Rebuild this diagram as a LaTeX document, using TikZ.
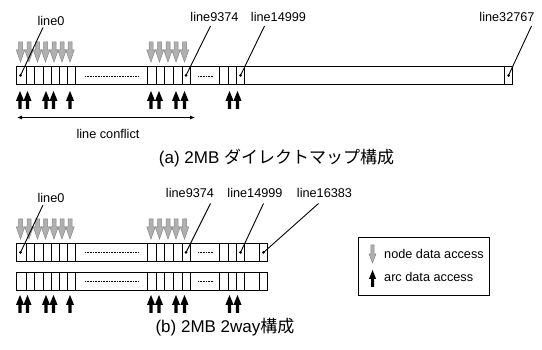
\documentclass[tikz,border=0pt]{standalone}
\usepackage{fontspec}
\setmainfont{Liberation Sans}
\newfontfamily\jpfont{Noto Sans CJK JP}
\usetikzlibrary{arrows.meta}
\begin{document}
\begin{tikzpicture}[x=1pt,y=-1pt,
  lbl/.style={font=\fontsize{12.7}{14}\selectfont, inner sep=0pt},
  captxt/.style={font=\fontsize{17}{19}\selectfont, inner sep=0pt},
  dotmark/.style={circle, fill=black, inner sep=0pt, minimum size=3pt},
  barline/.style={line width=0.9pt},
  leader/.style={line width=0.9pt},
  dotline/.style={line width=0.6pt, dash pattern=on 0.6pt off 1pt},
  garrow/.pic={\filldraw[fill=gray!62, draw=gray!95, line width=0.5pt] (-2,0) -- (-2,8) -- (-4.2,8) -- (0,20) -- (4.2,8) -- (2,8) -- (2,0) -- cycle;},
  barrow/.pic={\fill[black] (-1.6,0) -- (-1.6,-8) -- (-4.1,-8) -- (0,-18) -- (4.1,-8) -- (1.6,-8) -- (1.6,0) -- cycle;},
  sgarrow/.pic={\filldraw[fill=gray!62, draw=gray!95, line width=0.5pt] (-1.6,0) -- (-1.6,9) -- (-3.4,9) -- (0,18) -- (3.4,9) -- (1.6,9) -- (1.6,0) -- cycle;},
  sbarrow/.pic={\fill[black] (-1.5,0) -- (-1.5,-8) -- (-3.6,-8) -- (0,-17) -- (3.6,-8) -- (1.5,-8) -- (1.5,0) -- cycle;},
]
\useasboundingbox (0,0) rectangle (542,350);

% ---------------- (a) direct map ----------------
\foreach \x in {20.5,29,37.5,45.5,54,62,70,151,159.5,168,176,184.5}
  \pic at (\x,42) {garrow};
\draw[barline] (16,66.5) rectangle (512,84.5);
\foreach \x in {26,34.5,43,51,59.5,67.5,75.5,147.5,156,164.5,173,182,190,219.5,228,236.5,244.5,504.5}
  \draw[barline] (\x,66.5) -- (\x,84.5);
\draw[dotline] (85,76) -- (138,76);
\draw[dotline] (198,76) -- (213,76);

\node[dotmark] (a0) at (20.5,75.5) {};
\node[dotmark] (a1) at (186,75.5) {};
\node[dotmark] (a2) at (240.5,75.5) {};
\node[dotmark] (a3) at (508.5,75.5) {};
\node[lbl] (la0) at (51,21) {line0};
\node[lbl] (la1) at (214.5,16.5) {line9374};
\node[lbl] (la2) at (278.5,16.5) {line14999};
\node[lbl] (la3) at (507,16.5) {line32767};
\coordinate (ta0) at (43,27.5);
\coordinate (ta1) at (210.5,26);
\coordinate (ta2) at (264.5,26);
\coordinate (ta3) at (531.5,26);
\draw[leader] (a0.center) -- (ta0);
\draw[leader] (a1.center) -- (ta1);
\draw[leader] (a2.center) -- (ta2);
\draw[leader] (a3.center) -- (ta3);

\foreach \x in {20,27.5,46,53.5,70,151,159,176,184.5,229.5,237.5}
  \pic at (\x,109) {barrow};

\coordinate (cl) at (17,117.5);
\coordinate (cr) at (195,117.5);
\draw[line width=0.8pt, {Latex[length=5pt,width=4pt]}-{Latex[length=5pt,width=4pt]}] (cl) -- (cr);
\node[lbl] (conf) at (108,134) {line conflict};
\node[captxt] (capa) at (276.5,158) {(a) 2MB {\jpfont ダイレクトマップ構成}};

% ---------------- (b) 2way ----------------
\foreach \x in {20.5,29,37.5,45.5,54,62,70,151,159.5,168,176,184.5}
  \pic at (\x,219) {garrow};
\foreach \ya/\yb in {243.5/261.5,272/290}{
  \draw[barline] (16,\ya) rectangle (267.5,\yb);
  \foreach \x in {26,34.5,43,51,59.5,67.5,75.5,147.5,156,164.5,173,182,190,219.5,228,236.5,244.5,259.5}
    \draw[barline] (\x,\ya) -- (\x,\yb);
  \draw[dotline] (85,{(\ya+\yb)/2}) -- (138,{(\ya+\yb)/2});
  \draw[dotline] (198,{(\ya+\yb)/2}) -- (213,{(\ya+\yb)/2});
}
\node[dotmark] (b0) at (20.5,252.5) {};
\node[dotmark] (b1) at (186,252.5) {};
\node[dotmark] (b2) at (240.5,252.5) {};
\node[dotmark] (b3) at (263.5,252.5) {};
\node[lbl] (lb0) at (51,198) {line0};
\node[lbl] (lb1) at (190,193) {line9374};
\node[lbl] (lb2) at (255,193) {line14999};
\node[lbl] (lb3) at (324.5,193) {line16383};
\coordinate (tb0) at (43,205);
\coordinate (tb1) at (210.5,203.5);
\coordinate (tb2) at (263.5,203.5);
\coordinate (tb3) at (318.5,203.5);
\draw[leader] (b0.center) -- (tb0);
\draw[leader] (b1.center) -- (tb1);
\draw[leader] (b2.center) -- (tb2);
\draw[leader] (b3.center) -- (tb3);

\foreach \x in {20,27.5,46,53.5,70,151,159,176,184.5,229.5,237.5}
  \pic at (\x,313) {barrow};

\node[captxt] (capb) at (225,327) {(b) 2MB 2way{\jpfont 構成}};

% legend
\node[draw, line width=0.9pt, minimum width=131pt, minimum height=58pt, inner sep=0pt] (legend) at (424,266) {};
\pic at (372.5,245) {sgarrow};
\node[lbl, anchor=west] (lg1) at (384,253.5) {node data access};
\pic at (372.5,287) {sbarrow};
\node[lbl, anchor=west] (lg2) at (384,277) {arc data access};
\end{tikzpicture}
\end{document}
